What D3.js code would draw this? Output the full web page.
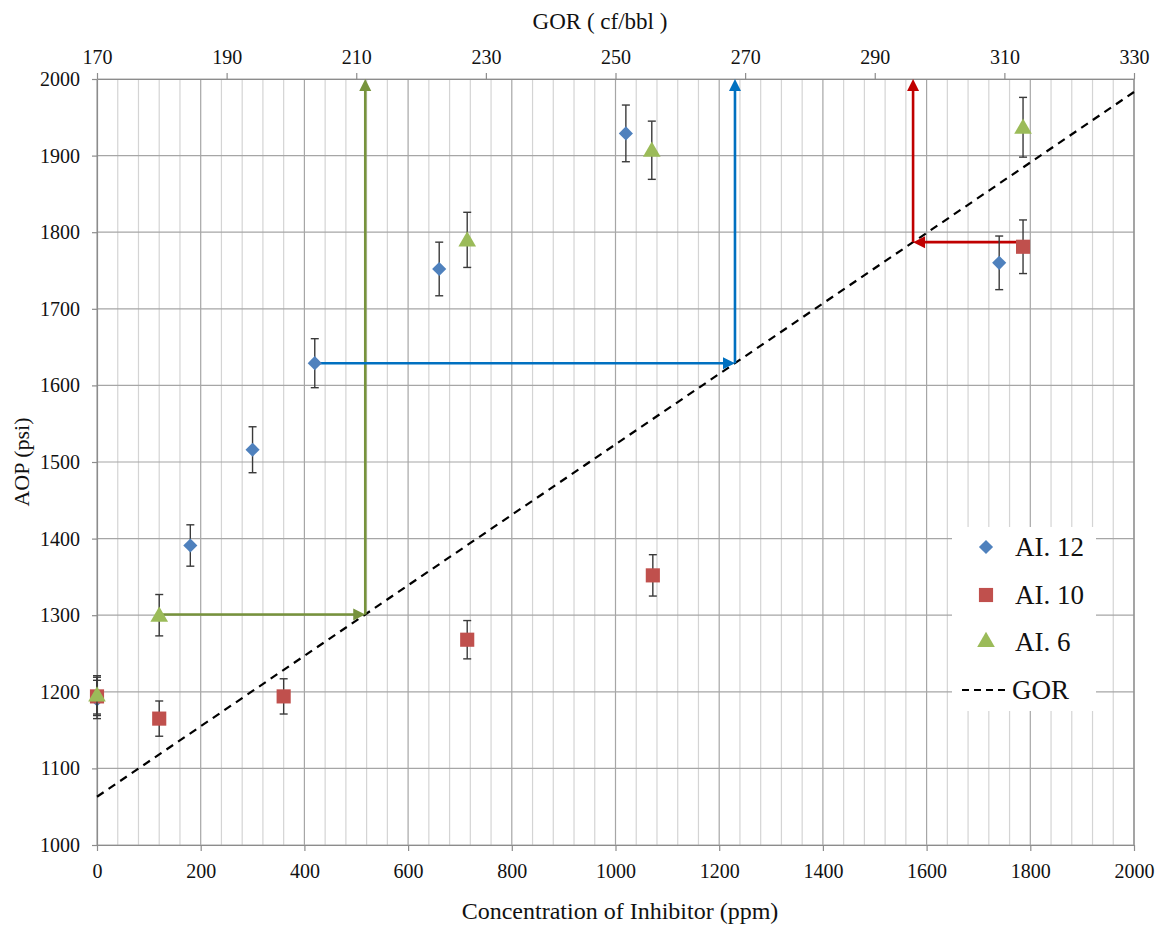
<!DOCTYPE html>
<html>
<head>
<meta charset="utf-8">
<script src="https://cdn.jsdelivr.net/npm/d3@7"></script>
<style>
  body { margin: 0; background: #fff; }
  svg text { font-family: "Liberation Serif", "DejaVu Serif", "Times New Roman", serif; fill: #111; }
</style>
</head>
<body>
<div id="chart-container"></div>
<script>
// Series data: concentration (ppm), AOP (psi), error (psi)
const ai12X = [0, 180, 300, 420, 660, 1020, 1740];
const ai12Y = [1190, 1391, 1516, 1629, 1752, 1929, 1760];
const ai12Err = [25, 27, 30, 32, 35, 37, 35];

const ai10X = [0, 120, 360, 714, 1072, 1786];
const ai10Y = [1194, 1165, 1194, 1268, 1352, 1781];
const ai10Err = [25, 23, 23, 25, 27, 35];

const ai6X = [0, 120, 714, 1070, 1786];
const ai6Y = [1196, 1300, 1790, 1907, 1937];
const ai6Err = [25, 27, 36, 38, 39];

// GOR trend line (top axis units vs AOP)
const gorValues = [170, 330];
const gorAop = [1063, 1983];

// Reading arrows: start point (ppm, psi), run to GOR line then up to top
const arrowStartX = [120, 420, 1786];
const arrowStartY = [1301, 1629, 1787];
const arrowColors = ["#77933c", "#0070c0", "#c00000"];

// Tick labels
const xTicks = d3.range(0, 2001, 200);
const yTicks = d3.range(1000, 2001, 100);
const gorTicks = d3.range(170, 331, 20);

const legendNames = ["AI. 12", "AI. 10", "AI. 6", "GOR"];
const seriesColors = ["#4f81bd", "#c0504d", "#9bbb59"];

const serif = "'Liberation Serif', 'DejaVu Serif', 'Times New Roman', serif";

const margin = { top: 79, right: 22, bottom: 81, left: 97 };
const width = 1156 - margin.left - margin.right;
const height = 926 - margin.top - margin.bottom;

const svg = d3.select("#chart-container")
    .append("svg")
    .attr("width", 1156)
    .attr("height", 926)
    .style("font-family", serif);

const g = svg.append("g")
    .attr("transform", `translate(${margin.left},${margin.top})`);

const x = d3.scaleLinear().domain([0, 2000]).range([0, width]);
const y = d3.scaleLinear().domain([1000, 2000]).range([height, 0]);
const gor = d3.scaleLinear().domain([170, 330]).range([0, width]);

// gridlines
g.append("g").selectAll("line")
    .data(d3.range(0, 2001, 40).filter(v => v % 200 !== 0))
    .join("line")
    .attr("x1", d => x(d)).attr("x2", d => x(d))
    .attr("y1", 0).attr("y2", height)
    .attr("stroke", "#d4d4d4").attr("stroke-width", 1.2);

g.append("g").selectAll("line")
    .data(xTicks)
    .join("line")
    .attr("x1", d => x(d)).attr("x2", d => x(d))
    .attr("y1", 0).attr("y2", height)
    .attr("stroke", "#a6a6a6").attr("stroke-width", 1.2);

g.append("g").selectAll("line")
    .data(yTicks)
    .join("line")
    .attr("x1", 0).attr("x2", width)
    .attr("y1", d => y(d)).attr("y2", d => y(d))
    .attr("stroke", "#a6a6a6").attr("stroke-width", 1.2);

// axes
function styleAxis(sel) {
    sel.attr("font-family", serif).attr("font-size", 20);
    sel.selectAll("path").attr("stroke", "#8c8c8c").attr("stroke-width", 1.2);
    sel.selectAll("line").attr("stroke", "#8c8c8c").attr("stroke-width", 1.2);
    sel.selectAll("text").attr("fill", "#111");
}

const fmt = d3.format("d");

g.append("g")
    .attr("transform", `translate(0,${height})`)
    .call(d3.axisBottom(x).tickValues(xTicks).tickFormat(fmt).tickSize(6).tickPadding(13).tickSizeOuter(0))
    .call(styleAxis);

g.append("g")
    .call(d3.axisLeft(y).tickValues(yTicks).tickFormat(fmt).tickSize(5).tickPadding(12).tickSizeOuter(0))
    .call(styleAxis);

g.append("g")
    .call(d3.axisTop(gor).tickValues(gorTicks).tickFormat(fmt).tickSize(6).tickPadding(9).tickSizeOuter(0))
    .call(styleAxis);

g.append("line")
    .attr("x1", width).attr("x2", width).attr("y1", 0).attr("y2", height)
    .attr("stroke", "#8c8c8c").attr("stroke-width", 1.2);

// axis titles
svg.append("text")
    .attr("x", 620).attr("y", 919)
    .attr("text-anchor", "middle")
    .style("font-size", "24px")
    .text("Concentration of Inhibitor (ppm)");

svg.append("text")
    .attr("x", 600).attr("y", 29)
    .attr("text-anchor", "middle")
    .style("font-size", "23px")
    .text("GOR ( cf/bbl )");

svg.append("text")
    .attr("transform", `translate(29,${margin.top + height / 2}) rotate(-90)`)
    .attr("text-anchor", "middle")
    .style("font-size", "22px")
    .text("AOP (psi)");

// GOR dashed line
g.append("line")
    .attr("x1", gor(gorValues[0])).attr("y1", y(gorAop[0]))
    .attr("x2", gor(gorValues[1])).attr("y2", y(gorAop[1]))
    .attr("stroke", "#000").attr("stroke-width", 2.2)
    .attr("stroke-dasharray", "8,6");

// ppm where GOR line reaches a given AOP
function gorCrossPpm(aop) {
    const gv = gorValues[0] + (aop - gorAop[0]) / (gorAop[1] - gorAop[0]) * (gorValues[1] - gorValues[0]);
    return x.invert(gor(gv));
}

function arrowHead(px, py, dir, color) {
    const L = 12, W = 6;
    let pts;
    if (dir === "right") pts = [[px, py], [px - L, py - W], [px - L, py + W]];
    else if (dir === "left") pts = [[px, py], [px + L, py - W], [px + L, py + W]];
    else pts = [[px, py], [px - W, py + L], [px + W, py + L]];
    g.append("path")
        .attr("d", d3.line()(pts) + "Z")
        .attr("fill", color);
}

arrowStartX.forEach((sx, i) => {
    const sy = arrowStartY[i];
    const cx = gorCrossPpm(sy);
    const col = arrowColors[i];
    const dir = cx > sx ? "right" : "left";
    const off = dir === "right" ? -10 : 10;
    g.append("line")
        .attr("x1", x(sx)).attr("y1", y(sy))
        .attr("x2", x(cx) + off).attr("y2", y(sy))
        .attr("stroke", col).attr("stroke-width", 2.6);
    arrowHead(x(cx), y(sy), dir, col);
    g.append("line")
        .attr("x1", x(cx)).attr("y1", y(sy))
        .attr("x2", x(cx)).attr("y2", y(2000) + 10)
        .attr("stroke", col).attr("stroke-width", 2.6);
    arrowHead(x(cx), y(2000), "up", col);
});

// marker shapes
const diamond = d3.symbol().type(d3.symbolSquare).size(100)();
const square = d3.symbol().type(d3.symbolSquare).size(200)();
const triangle = d3.symbol().type(d3.symbolTriangle).size(135)();
const shapes = [diamond, square, triangle];
const rotations = [45, 0, 0];
const yShift = [0, 0, 1.5];

// series
const series = [
    { xs: ai12X, ys: ai12Y, err: ai12Err },
    { xs: ai10X, ys: ai10Y, err: ai10Err },
    { xs: ai6X, ys: ai6Y, err: ai6Err }
];

series.forEach((s, si) => {
    const pts = s.xs.map((v, i) => ({ x: v, y: s.ys[i], e: s.err[i] }));
    const eb = g.append("g");
    pts.forEach(p => {
        const cx = x(p.x), top = y(p.y + p.e), bot = y(p.y - p.e);
        eb.append("line").attr("x1", cx).attr("x2", cx).attr("y1", top).attr("y2", bot);
        eb.append("line").attr("x1", cx - 4).attr("x2", cx + 4).attr("y1", top).attr("y2", top);
        eb.append("line").attr("x1", cx - 4).attr("x2", cx + 4).attr("y1", bot).attr("y2", bot);
    });
    eb.selectAll("line").attr("stroke", "#3a3a3a").attr("stroke-width", 1.4);

    g.append("g").selectAll("path")
        .data(pts)
        .join("path")
        .attr("d", shapes[si])
        .attr("transform", d => `translate(${x(d.x)},${y(d.y) + yShift[si]}) rotate(${rotations[si]})`)
        .attr("fill", seriesColors[si]);
});

// legend
const legend = svg.append("g").attr("transform", "translate(952,527)");
legend.append("rect")
    .attr("width", 144).attr("height", 184)
    .attr("fill", "#fff");

const rowY = [20, 68, 115, 163];

legendNames.forEach((name, i) => {
    if (i < 3) {
        legend.append("path")
            .attr("d", shapes[i])
            .attr("transform", `translate(34,${rowY[i]}) rotate(${rotations[i]})`)
            .attr("fill", seriesColors[i]);
    } else {
        legend.append("line")
            .attr("x1", 10).attr("x2", 54)
            .attr("y1", rowY[i]).attr("y2", rowY[i])
            .attr("stroke", "#000").attr("stroke-width", 2)
            .attr("stroke-dasharray", "7,5");
    }
    legend.append("text")
        .attr("x", i < 3 ? 63 : 60).attr("y", rowY[i])
        .attr("dy", "0.35em")
        .style("font-size", "27px")
        .text(name);
});
</script>
</body>
</html>
